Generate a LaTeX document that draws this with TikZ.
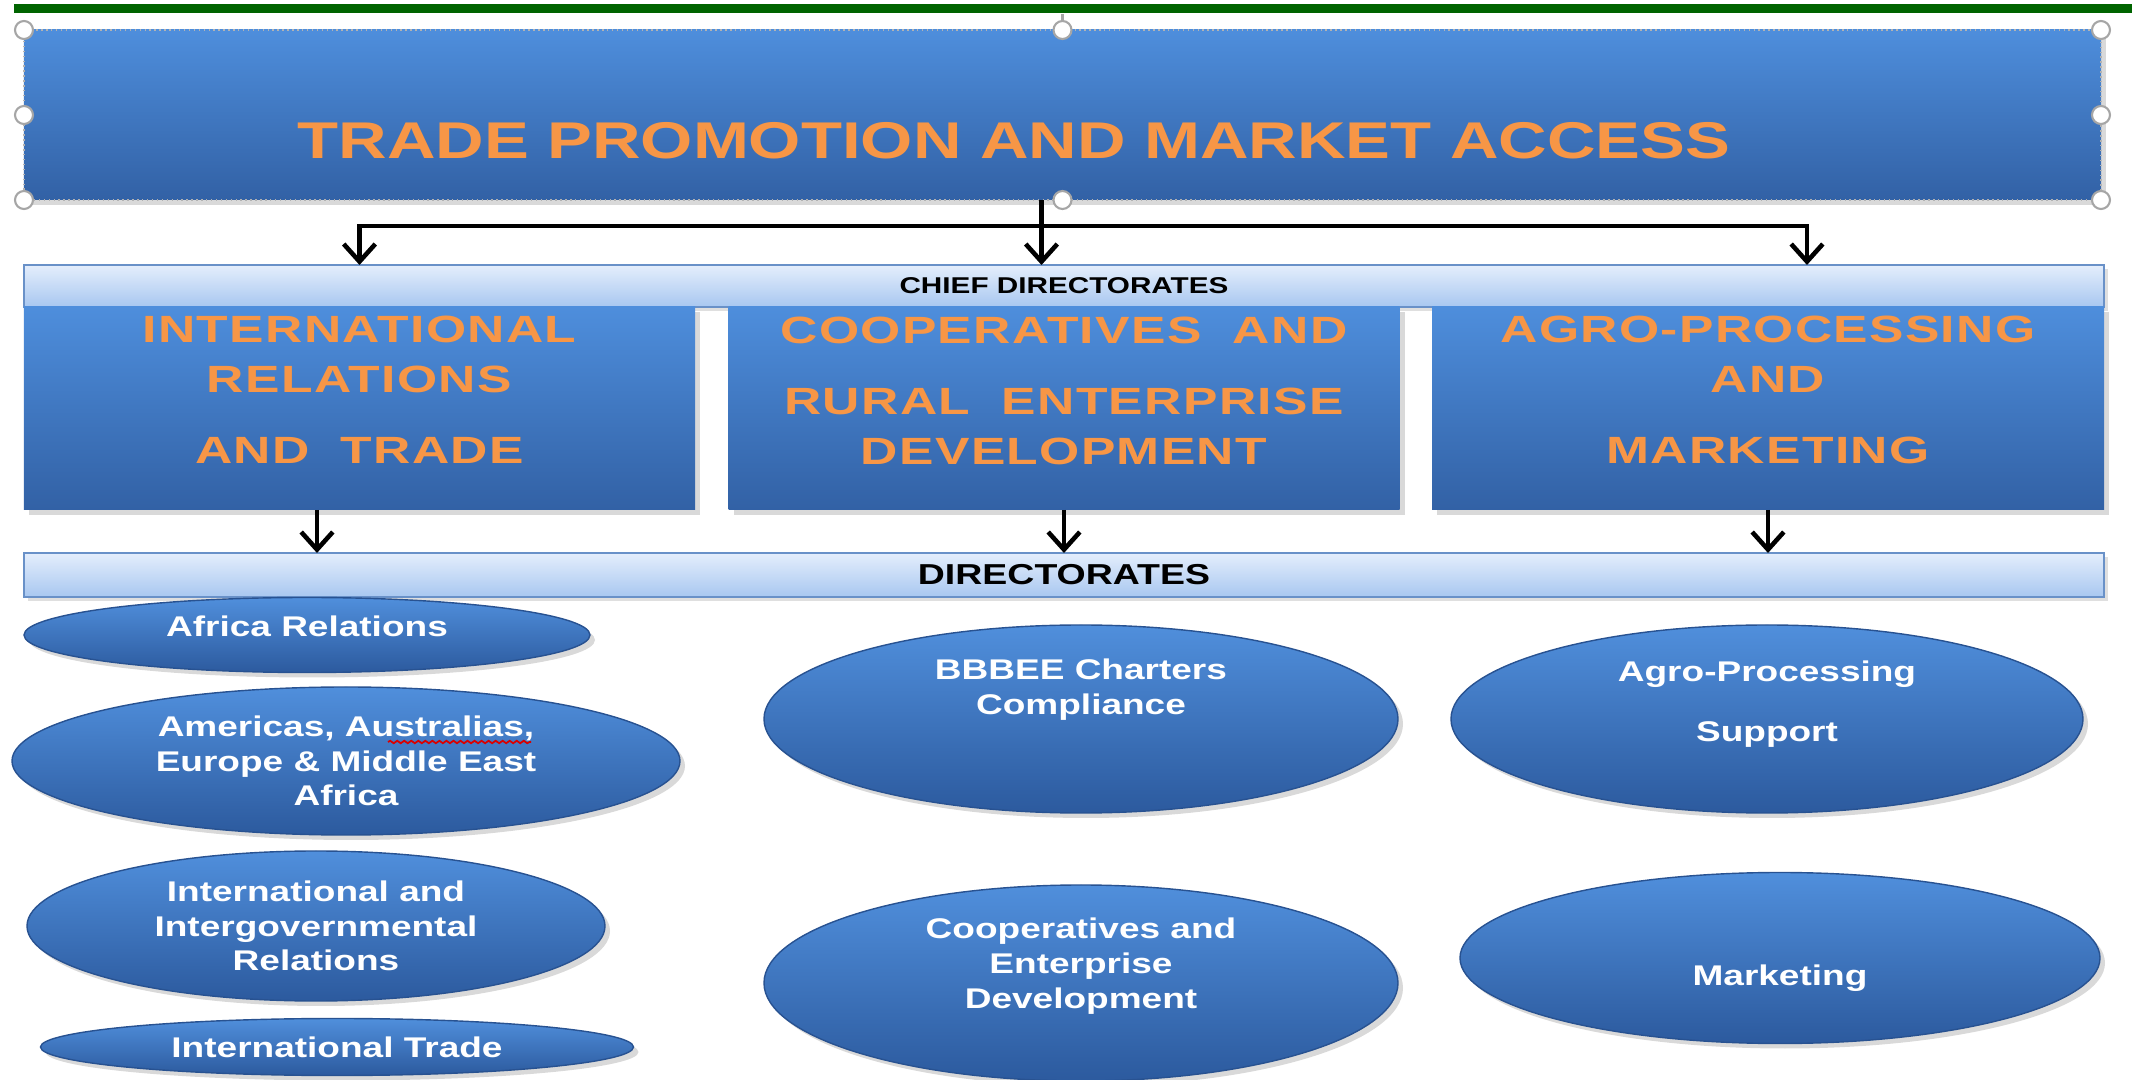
\documentclass[tikz,border=0pt]{standalone}
\usepackage{fontspec}
\setmainfont{Liberation Sans}[FakeStretch=1.3]
\newfontfamily\chieffont{Liberation Sans}[FakeStretch=1.36,LetterSpace=3.5]
\usepackage{tikz}
\usetikzlibrary{positioning}
\usetikzlibrary{arrows.meta,shapes.geometric,shadows,decorations.pathmorphing}

\definecolor{rulegreen}{RGB}{0,100,0}
\definecolor{boxtop}{RGB}{78,142,220}
\definecolor{boxbot}{RGB}{50,97,165}
\definecolor{bartop}{RGB}{228,238,252}
\definecolor{barbot}{RGB}{168,199,240}
\definecolor{barline}{RGB}{105,145,200}
\definecolor{elltop}{RGB}{80,143,220}
\definecolor{ellbot}{RGB}{44,90,158}
\definecolor{ellline}{RGB}{40,82,145}
\definecolor{tpmaorange}{RGB}{247,150,70}

\begin{document}
\begin{tikzpicture} [box/.style={rectangle, outer sep=0pt, top color=boxtop, bottom color=boxbot,
        drop shadow={shadow xshift=0.5mm, shadow yshift=-0.5mm, opacity=0.3}},
    bar/.style={rectangle, outer sep=0pt, top color=bartop, bottom color=barbot, draw=barline,
        line width=0.4pt, minimum width=20.8cm,
        drop shadow={shadow xshift=0.4mm, shadow yshift=-0.4mm, opacity=0.25}},
    dir/.style={ellipse, outer sep=0pt, top color=elltop, bottom color=ellbot, draw=ellline,
        line width=0.4pt, drop shadow={shadow xshift=0.5mm, shadow yshift=-0.5mm, opacity=0.3}},
    titletext/.style={text=tpmaorange, font=\bfseries\fontsize{14.7}{17}\selectfont},
    chieftext/.style={text=tpmaorange, align=center, font=\chieffont\bfseries\fontsize{10.8}{14.2}\selectfont},
    dirtext/.style={text=white, align=center, font=\bfseries\fontsize{8.1}{9.9}\selectfont},
    conn/.style={line width=1.3pt, -{Straight Barb[length=5pt,width=9pt]}},
    handle/.style={fill=white, draw=gray!70, line width=0.6pt}]

\useasboundingbox (0,0) rectangle (21.32,-10.8);

\node [fill=rulegreen, minimum width=21.18cm, minimum height=0.09cm, inner sep=0pt] (rule) at (10.73,-0.085) {};

\node [box, draw=gray!60, densely dotted, line width=0.4pt, minimum width=20.77cm, minimum height=1.70cm,
    label={[titletext, xshift=-4.85mm, yshift=-2.6mm]center:TRADE PROMOTION AND MARKET ACCESS}]
    (tpma) at (10.625,-1.15) {};

\node [bar, minimum height=0.42cm, font=\bfseries\fontsize{6.5}{7}\selectfont] (chief) at (10.64,-2.86) {CHIEF DIRECTORATES};

\node [box, minimum width=6.71cm, minimum height=2.03cm, below right=0cm of chief.south west,
    label={[chieftext, yshift=1.9mm]center:{INTERNATIONAL\\RELATIONS\\[6pt]AND~~TRADE}}] (c0) {};
\node [box, minimum width=6.71cm, minimum height=2.03cm, below=0cm of chief,
    label={[chieftext, yshift=1.8mm]center:{COOPERATIVES~~AND\\[6pt]RURAL~~ENTERPRISE\\DEVELOPMENT}}] (c1) {};
\node [box, minimum width=6.72cm, minimum height=2.03cm, below left=0cm of chief.south east,
    label={[chieftext, yshift=1.9mm]center:{AGRO-PROCESSING\\AND\\[6pt]MARKETING}}] (c2) {};

\node [bar, minimum height=0.44cm, below=0.43cm of c1, font=\bfseries\fontsize{8.2}{9}\selectfont] (dirs) {DIRECTORATES};

% directorates
\node [dir, minimum width=5.66cm, minimum height=0.75cm,
    label={[dirtext, yshift=0.9mm]center:Africa Relations}] (d0) at (3.07,-6.35) {};
\node [dir, minimum width=6.68cm, minimum height=1.48cm,
    label={[dirtext]center:{Americas, Australias,\\Europe \& Middle East\\Africa}}] (d1) at (3.46,-7.61) {};
\node [dir, minimum width=5.78cm, minimum height=1.50cm,
    label={[dirtext]center:{International and\\Intergovernmental\\Relations}}] (d2) at (3.16,-9.26) {};
\node [dir, minimum width=5.93cm, minimum height=0.57cm,
    label={[dirtext]center:International Trade}] (d3) at (3.37,-10.47) {};
\node [dir, minimum width=6.34cm, minimum height=1.88cm,
    label={[dirtext, yshift=2.9mm]center:{BBBEE Charters\\Compliance}}] (d4) at (10.81,-7.19) {};
\node [dir, minimum width=6.34cm, minimum height=1.96cm,
    label={[dirtext, yshift=1.7mm]center:{Cooperatives and\\Enterprise\\Development}}] (d5) at (10.81,-9.83) {};
\node [dir, minimum width=6.32cm, minimum height=1.88cm,
    label={[dirtext, yshift=1.5mm]center:{Agro-Processing\\[7pt]Support}}] (d6) at (17.67,-7.19) {};
\node [dir, minimum width=6.40cm, minimum height=1.71cm,
    label={[dirtext, yshift=-2mm]center:Marketing}] (d7) at (17.80,-9.58) {};

% spell-check squiggle
\draw [red!85!black, line width=0.5pt, decorate, decoration={snake, amplitude=0.35pt, segment length=2pt}]
    ([xshift=4.2mm, yshift=1.9mm]d1.center) -- ++(1.43,0);

% selection handles
\draw [gray!70, line width=0.6pt] (tpma.north) -- (tpma.north |- rule.south);
\foreach \a in {north west,north,north east,west,east,south west,south,south east}
    \draw [handle] (tpma.\a) circle (0.9mm);

\coordinate (hub) at ([xshift=-2.1mm, yshift=-2.6mm]tpma.south);
\coordinate (rt) at ([xshift=3.9mm]c2.north);
\coordinate (s0) at ([xshift=-4.25mm]c0.south);

\draw [conn] ([xshift=-2.1mm]tpma.south) -- (hub |- chief.north);
\draw [conn] (hub) -| (c0.north |- chief.north);
\draw [conn] (hub) -| (rt |- chief.north);

\draw [conn] (s0) -- (s0 |- dirs.north);
\draw [conn] (c1.south) -- (c1.south |- dirs.north);
\draw [conn] (c2.south) -- (c2.south |- dirs.north);

\end{tikzpicture}
\end{document}
